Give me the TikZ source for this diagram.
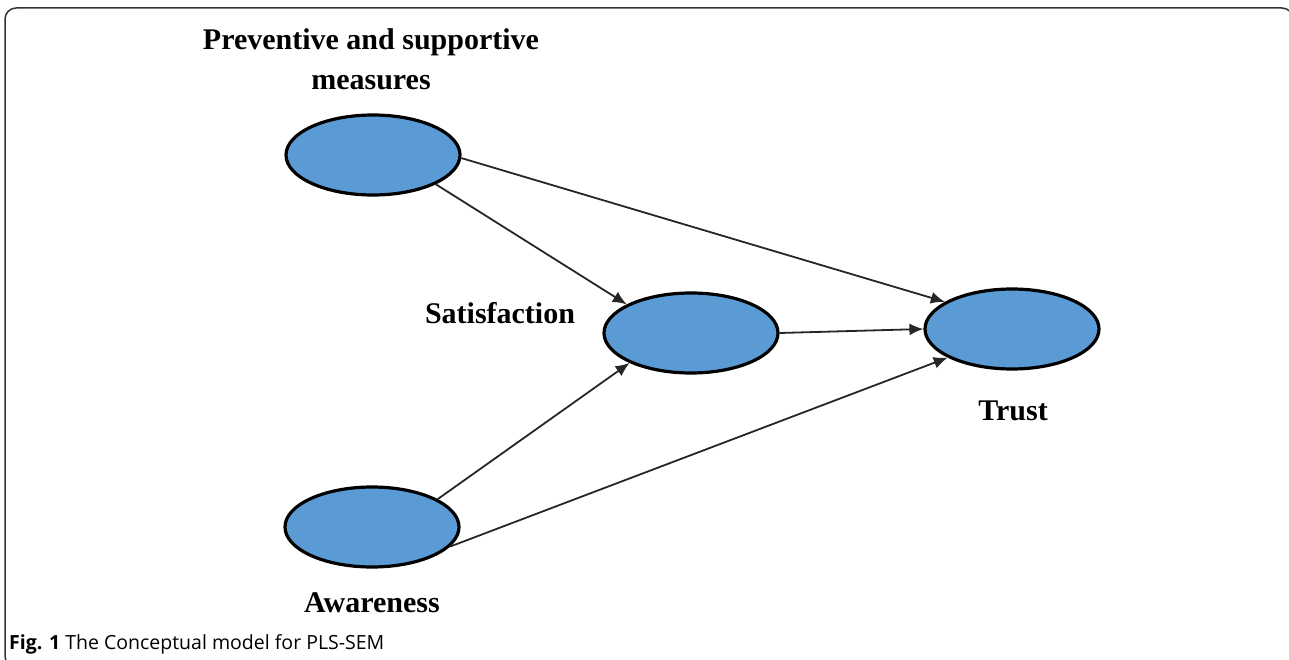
\documentclass[tikz,border=0pt]{standalone}
\usepackage{fontspec}
\setmainfont{Liberation Serif}
\newfontfamily\capfont{Open Sans}
\usetikzlibrary{arrows.meta,shapes.geometric}
\definecolor{ellfill}{HTML}{5B9BD5}
\definecolor{framecol}{HTML}{333333}
\tikzset{
  construct/.style={ellipse, draw=black, line width=3.2pt, fill=ellfill, inner sep=0pt,
    minimum width=174pt, minimum height=80pt},
  lab/.style={font=\fontsize{30}{40}\selectfont\bfseries, inner sep=0pt, anchor=base},
  path/.style={draw=black!85, line width=1.8pt, -{Latex[length=14pt,width=12pt]}},
}
\begin{document}
\begin{tikzpicture}[x=1pt,y=-1pt]
\useasboundingbox (0,0) rectangle (1289,660);
\begin{scope}
\clip (0,0) rectangle (1289,660);
\draw[framecol, line width=1.5pt, rounded corners=11pt] (5,8) rectangle (1293,667);
\end{scope}

\node[construct] (psm) at (373,155) {};
\node[construct] (sat) at (691,333) {};
\node[construct] (trust) at (1012,329) {};
\node[construct] (aware) at (372,527) {};

\node[lab] (psmlab1) at (371,50) {Preventive and supportive};
\node[lab] (psmlab2) at (371,90) {measures};
\node[lab] (satlab) at (500,323) {Satisfaction};
\node[lab] (trustlab) at (1013,420) {Trust};
\node[lab] (awarelab) at (372,612) {Awareness};

\node[font=\capfont\fontsize{19.5}{22}\selectfont, anchor=base west, inner sep=0pt] (caption) at (9,649)
  {\textbf{Fig. 1} The Conceptual model for PLS-SEM};

\draw[path] (psm.358) -- (trust.158.6);
\draw[path] (psm.335) -- (sat.156);
\draw[path] (sat.east) -- (trust.west);
\draw[path] (aware.23.7) -- (sat.206.6);
\draw[path] (aware.346) -- (trust.204.2);
\end{tikzpicture}
\end{document}
